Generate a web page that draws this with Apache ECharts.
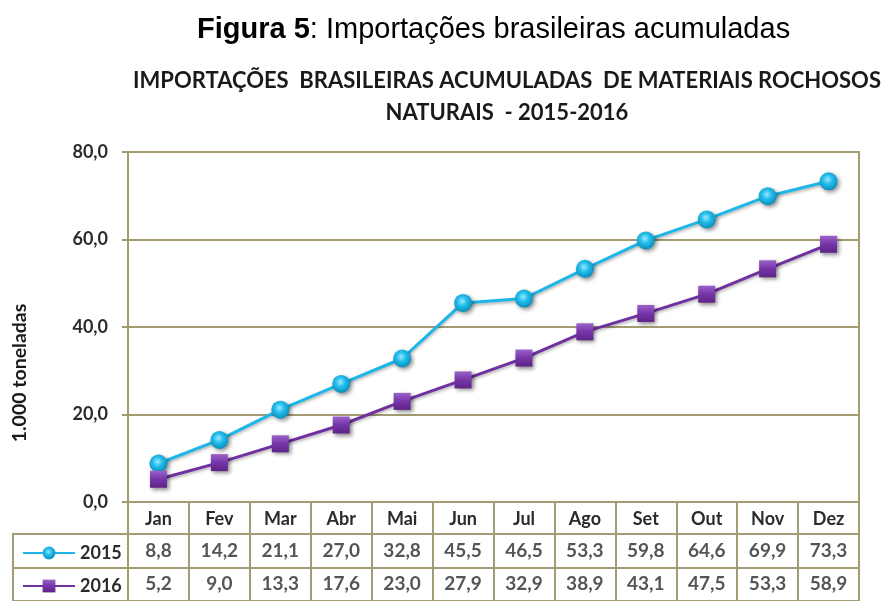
<!DOCTYPE html>
<html>
<head>
<meta charset="utf-8">
<title>Importações brasileiras acumuladas</title>
<script src="https://cdn.jsdelivr.net/npm/echarts@6/dist/echarts.min.js"></script>
<style>
  html, body { margin: 0; padding: 0; background: #fff; }
  #chart { width: 884px; height: 601px; }
</style>
</head>
<body>
<div id="chart"></div>
<script>
// dados
var meses = ["Jan", "Fev", "Mar", "Abr", "Mai", "Jun", "Jul", "Ago", "Set", "Out", "Nov", "Dez"];
var anos = ["2015", "2016"];
var valores2015 = [8.8, 14.2, 21.1, 27.0, 32.8, 45.5, 46.5, 53.3, 59.8, 64.6, 69.9, 73.3];
var valores2016 = [5.2, 9.0, 13.3, 17.6, 23.0, 27.9, 32.9, 38.9, 43.1, 47.5, 53.3, 58.9];
var eixoY = [0, 20, 40, 60, 80];

var oliva = "#a39c72";
var fonte = "Lato, 'Open Sans', sans-serif";
var corTexto = "#2b2b2b";

function virgula(v) {
  return v.toFixed(1).replace(".", ",");
}

var myChart = echarts.init(document.getElementById("chart"));

// linhas da tabela (mes, ano, valor)
function linhaTabela(valores, idx) {
  return valores.map(function (v, i) { return [i, idx, v]; });
}

var sombra = { shadowBlur: 4, shadowColor: "rgba(0,0,0,0.45)", shadowOffsetX: 2, shadowOffsetY: 2 };

// uma legenda por linha da tabela
function legenda(ano, topo) {
  return {
    data: [ano],
    left: 17,
    top: topo,
    itemWidth: 52,
    itemHeight: 16,
    textStyle: { fontFamily: fonte, fontSize: 18, fontWeight: "bold", color: corTexto }
  };
}

myChart.setOption({
  animation: false,
  title: [
    {
      text: "{b|Figura 5}: Importações brasileiras acumuladas",
      left: 192,
      top: 10,
      textStyle: {
        fontFamily: "'Liberation Sans', Arial, sans-serif",
        fontSize: 29,
        fontWeight: "normal",
        color: "#000",
        rich: {
          b: { fontFamily: "'Liberation Sans', Arial, sans-serif", fontSize: 29, fontWeight: "bold", color: "#000" }
        }
      }
    },
    {
      text: "IMPORTAÇÕES  BRASILEIRAS ACUMULADAS  DE MATERIAIS ROCHOSOS\nNATURAIS  - 2015-2016",
      left: 502,
      textAlign: "center",
      top: 60,
      textStyle: {
        fontFamily: fonte,
        fontSize: 22,
        fontWeight: "bold",
        lineHeight: 32,
        color: "#1a1a1a"
      }
    }
  ],
  legend: [legenda("2015", 539), legenda("2016", 572)],
  graphic: [
    {
      type: "text",
      x: 20,
      y: 373,
      rotation: Math.PI / 2,
      style: {
        text: "1.000 toneladas",
        fontFamily: fonte,
        fontSize: 19.5,
        fontWeight: "bold",
        fill: "#1a1a1a",
        textAlign: "center",
        textVerticalAlign: "middle"
      }
    }
  ],
  grid: [
    { left: 128, right: 25, top: 152, height: 350, show: true, borderColor: oliva, borderWidth: 2 },
    { left: 128, right: 25, top: 534, height: 67, show: true, borderColor: oliva, borderWidth: 2 },
    { left: 13, width: 115, top: 534, height: 67, show: true, borderColor: oliva, borderWidth: 2 }
  ],
  xAxis: [
    {
      gridIndex: 0,
      type: "category",
      data: meses,
      boundaryGap: true,
      axisLine: { lineStyle: { color: oliva, width: 2 } },
      axisTick: { show: true, interval: 0, length: 101, lineStyle: { color: oliva, width: 2 } },
      axisLabel: { interval: 0, margin: 8, fontFamily: fonte, fontSize: 18, fontWeight: "bold", color: corTexto }
    },
    {
      gridIndex: 1,
      type: "category",
      data: meses,
      boundaryGap: true,
      axisLine: { show: false },
      axisTick: { show: false },
      axisLabel: { show: false }
    },
    {
      gridIndex: 2,
      type: "category",
      data: [""],
      axisLine: { show: false },
      axisTick: { show: false },
      axisLabel: { show: false }
    }
  ],
  yAxis: [
    {
      gridIndex: 0,
      type: "value",
      min: eixoY[0],
      max: eixoY[eixoY.length - 1],
      interval: 20,
      axisLine: { show: true, lineStyle: { color: oliva, width: 2 } },
      axisTick: { show: true, length: 6, lineStyle: { color: oliva, width: 2 } },
      axisLabel: {
        margin: 20,
        fontFamily: fonte,
        fontSize: 18,
        fontWeight: "bold",
        color: corTexto,
        formatter: function (v) { return virgula(v); }
      },
      splitLine: { show: true, lineStyle: { color: oliva, width: 2 } }
    },
    {
      gridIndex: 1,
      type: "category",
      data: anos,
      inverse: true,
      axisLine: { show: false },
      axisTick: { show: false },
      axisLabel: { show: false },
      splitLine: { show: true, lineStyle: { color: oliva, width: 2 } }
    },
    {
      gridIndex: 2,
      type: "category",
      data: anos,
      inverse: true,
      axisLine: { show: false },
      axisTick: { show: false },
      axisLabel: { show: false },
      splitLine: { show: true, lineStyle: { color: oliva, width: 2 } }
    }
  ],
  series: [
    {
      name: "2015",
      type: "line",
      data: valores2015,
      symbol: "circle",
      symbolSize: 18,
      color: "#1cb6e9",
      lineStyle: { width: 3, color: "#1cb6e9", shadowBlur: 3, shadowColor: "rgba(0,0,0,0.3)", shadowOffsetY: 2 },
      itemStyle: Object.assign({
        color: new echarts.graphic.RadialGradient(0.45, 0.4, 0.6, [
          { offset: 0, color: "#9be8ff" },
          { offset: 0.45, color: "#22bdec" },
          { offset: 1, color: "#0a8fbd" }
        ])
      }, sombra)
    },
    {
      name: "2016",
      type: "line",
      data: valores2016,
      symbol: "rect",
      symbolSize: 17,
      color: "#7030a0",
      lineStyle: { width: 3, color: "#7030a0", shadowBlur: 3, shadowColor: "rgba(0,0,0,0.3)", shadowOffsetY: 2 },
      itemStyle: Object.assign({
        color: new echarts.graphic.LinearGradient(0, 0, 0, 1, [
          { offset: 0, color: "#9a62c8" },
          { offset: 0.5, color: "#7535a8" },
          { offset: 1, color: "#5e2388" }
        ])
      }, sombra)
    },
    {
      name: "tabela2015",
      type: "scatter",
      xAxisIndex: 1,
      yAxisIndex: 1,
      silent: true,
      symbolSize: 1,
      itemStyle: { color: "rgba(0,0,0,0)" },
      data: linhaTabela(valores2015, 0),
      label: {
        show: true,
        position: "inside",
        fontFamily: fonte,
        fontSize: 19,
        fontWeight: "bold",
        color: corTexto,
        formatter: function (p) { return virgula(p.value[2]); }
      }
    },
    {
      name: "tabela2016",
      type: "scatter",
      xAxisIndex: 1,
      yAxisIndex: 1,
      silent: true,
      symbolSize: 1,
      itemStyle: { color: "rgba(0,0,0,0)" },
      data: linhaTabela(valores2016, 1),
      label: {
        show: true,
        position: "inside",
        fontFamily: fonte,
        fontSize: 19,
        fontWeight: "bold",
        color: corTexto,
        formatter: function (p) { return virgula(p.value[2]); }
      }
    }
  ]
});
</script>
</body>
</html>
